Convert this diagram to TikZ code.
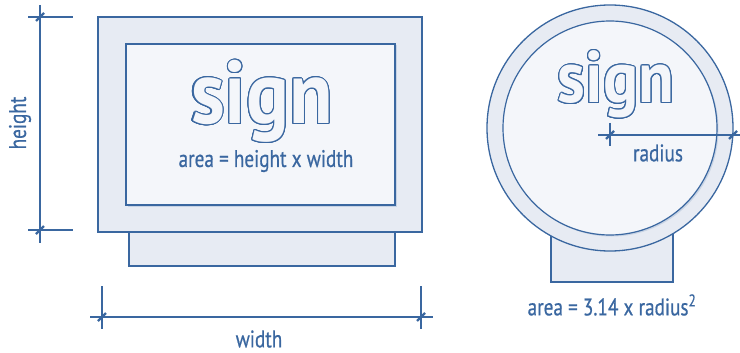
\documentclass[tikz,border=0pt]{standalone}
\usepackage{fontspec}
\setmainfont{PT Sans}[FakeStretch=0.8, FakeBold=0.6]
\newfontfamily\signfont{PT Sans}[FakeStretch=0.9]
\usepackage{contour}
\contourlength{1.1pt}
\contournumber{20}
\usetikzlibrary{positioning,shadows}

\definecolor{signblue}{HTML}{3A67A0}
\definecolor{panelfill}{HTML}{E7EBF3}
\definecolor{facefill}{HTML}{F4F6FA}

\newcommand{\outlined}[1]{\contour{signblue}{\textcolor{facefill}{#1}}}

\begin{document}
\begin{tikzpicture}[
    x=1pt, y=-1pt,
    panel/.style={draw=signblue, line width=1.3pt, fill=panelfill},
    face/.style={draw=signblue, line width=1.2pt, fill=facefill,
                 drop shadow={shadow xshift=1.5pt, shadow yshift=-1.5pt,
                              fill=signblue, opacity=0.18}},
    dimline/.style={signblue, line width=1.2pt},
    dimtick/.style={signblue, line width=2.4pt},
    lbl/.style={text=signblue, inner sep=0pt,
                font=\fontsize{24}{26}\selectfont},
    bigsign/.style={inner sep=0pt, font=\signfont\bfseries},
  ]
  \useasboundingbox (0,0) rectangle (740,353);

  % ---------- rectangular sign: base, board, face ----------
  \draw[panel] (129,225) rectangle (395,266);
  \draw[panel] (98,17) rectangle (422,232);
  \draw[face] (126,44) rectangle (395,205);
  \node[bigsign] (signL) at (262,102)
    {\fontsize{89}{89}\selectfont\outlined{sign}};
  \node[lbl] (areaL) at (266,161) {area = height x width};

  % ---------- height dimension ----------
  \coordinate (htop) at (40,17);
  \coordinate (hbot) at (40,230);
  \draw[dimline] (40,5) -- (40,243);
  \draw[dimline] (28,17) -- (73,17);
  \draw[dimline] (28,230) -- (73,230);
  \draw[dimtick] (htop) ++(-4,4) -- ++(8,-8);
  \draw[dimtick] (hbot) ++(-4,4) -- ++(8,-8);
  \node[lbl, rotate=90] (hlbl) at (20,123) {height};

  % ---------- width dimension ----------
  \coordinate (wleft) at (102,317);
  \coordinate (wright) at (421,317);
  \draw[dimline] (90,317) -- (433,317);
  \draw[dimline] (102,286) -- (102,329);
  \draw[dimline] (421,286) -- (421,329);
  \draw[dimtick] (wleft) ++(-4,4) -- ++(8,-8);
  \draw[dimtick] (wright) ++(-4,4) -- ++(8,-8);
  \node[lbl] (wlbl) at (259,339) {width};

  % ---------- round sign: stand, ring, face ----------
  \draw[panel] (551,220) rectangle (673,282);
  \draw[panel] (610,128) circle[radius=123pt];
  \draw[face] (610,128) circle[radius=107pt];
  \node[bigsign] (signR) at (616,85)
    {\fontsize{73}{73}\selectfont\outlined{sign}};

  % ---------- radius dimension ----------
  \coordinate (rctr) at (610,135);
  \coordinate (redge) at (733,135);
  \draw[dimline] (598,135) -- (740,135);
  \draw[dimline] (610,123) -- (610,146);
  \draw[dimtick] (rctr) ++(-4,4) -- ++(8,-8);
  \draw[dimtick] (redge) ++(-4,4) -- ++(8,-8);
  \node[lbl] (rlbl) at (658,153) {radius};

  % ---------- circle area formula ----------
  \node[lbl] (areaR) at (612,305) {area = 3.14 x radius\textsuperscript{2}};

\end{tikzpicture}
\end{document}
